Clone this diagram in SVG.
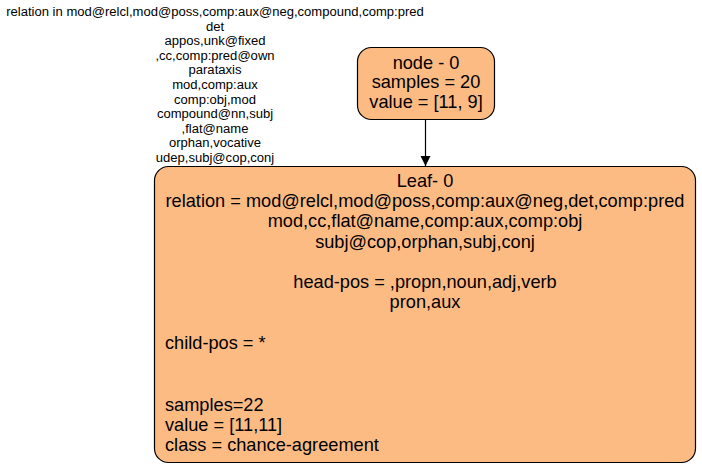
<svg xmlns="http://www.w3.org/2000/svg" width="702" height="468" viewBox="0 0 702 468">
<style>
text{font-family:"Liberation Sans",Arial,Helvetica,sans-serif;fill:#000}
.big{font-size:18.2px}
.small{font-size:13.05px}
.c{text-anchor:middle}
.box{fill:#fdbb84;stroke:#000;stroke-width:1.2}
</style>
<defs>
<marker id="arr" markerWidth="10" markerHeight="11" refX="10" refY="5" orient="auto" markerUnits="userSpaceOnUse">
<path d="M0,0 L10,5 L0,10 Z" fill="#000"/>
</marker>
</defs>
<rect width="702" height="468" fill="#fff"/>
<g id="edges">
<line x1="425.5" y1="119" x2="425.5" y2="166" stroke="#000" stroke-width="1.2" marker-end="url(#arr)"/>
<g id="edge-label" class="small c">
<text x="215" y="16">relation in mod@relcl,mod@poss,comp:aux@neg,compound,comp:pred</text>
<text x="215" y="30.6">det</text>
<text x="215" y="45.2">appos,unk@fixed</text>
<text x="215" y="59.8">,cc,comp:pred@own</text>
<text x="215" y="74.4">parataxis</text>
<text x="215" y="89">mod,comp:aux</text>
<text x="215" y="103.6">comp:obj,mod</text>
<text x="215" y="118.2">compound@nn,subj</text>
<text x="215" y="132.8">,flat@name</text>
<text x="215" y="147.4">orphan,vocative</text>
<text x="215" y="162">udep,subj@cop,conj</text>
</g>
</g>
<g id="node0">
<rect class="box" x="357.5" y="47.5" width="137" height="72" rx="14"/>
<text class="big c" x="426" y="68.5">node - 0</text>
<text class="big c" x="426" y="88">samples = 20</text>
<text class="big c" x="426" y="107.5">value = [11, 9]</text>
</g>
<g id="leaf0">
<rect class="box" x="154.5" y="166.5" width="541" height="296" rx="14"/>
<g class="big c">
<text x="425" y="187">Leaf- 0</text>
<text x="425" y="207.2">relation = mod@relcl,mod@poss,comp:aux@neg,det,comp:pred</text>
<text x="425" y="227.4">mod,cc,flat@name,comp:aux,comp:obj</text>
<text x="425" y="247.6">subj@cop,orphan,subj,conj</text>
<text x="425" y="288">head-pos = ,propn,noun,adj,verb</text>
<text x="425" y="308.2">pron,aux</text>
</g>
<g class="big">
<text x="165" y="348.6">child-pos = *</text>
<text x="165" y="411">samples=22</text>
<text x="165" y="431">value = [11,11]</text>
<text x="165" y="451">class = chance-agreement</text>
</g>
</g>
</svg>
